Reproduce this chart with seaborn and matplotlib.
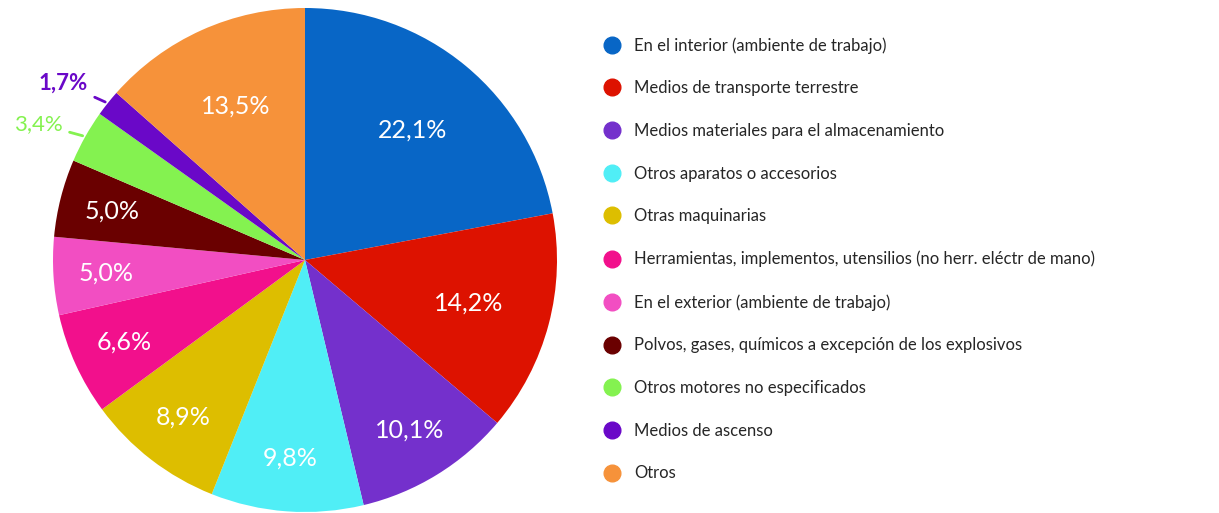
import numpy as np
import matplotlib
matplotlib.use("Agg")
import matplotlib.pyplot as plt
from matplotlib.lines import Line2D
import seaborn as sns

categories = [
    "En el interior (ambiente de trabajo)",
    "Medios de transporte terrestre",
    "Medios materiales para el almacenamiento",
    "Otros aparatos o accesorios",
    "Otras maquinarias",
    "Herramientas, implementos, utensilios (no herr. eléctr de mano)",
    "En el exterior (ambiente de trabajo)",
    "Polvos, gases, químicos a excepción de los explosivos",
    "Otros motores no especificados",
    "Medios de ascenso",
    "Otros",
]
values = [22.1, 14.2, 10.1, 9.8, 8.9, 6.6, 5.0, 5.0, 3.4, 1.7, 13.5]
colors = ["#0866C6", "#DD1200", "#7430CC", "#50EEF6", "#DDBE00", "#F2108C",
          "#F24EC2", "#6A0000", "#84F250", "#6A08C8", "#F6923A"]
outside = [False] * 8 + [True, True, False]

sns.set_theme(style="white")
plt.rcParams["font.family"] = ["Lato", "DejaVu Sans"]

fig = plt.figure(figsize=(12.19, 5.13), dpi=100)
ax = fig.add_axes([53 / 1219, 1 / 513, 504 / 1219, 504 / 513])

wedges, _ = ax.pie(values, colors=colors, startangle=90, counterclock=False,
                   radius=1.0, wedgeprops=dict(linewidth=0))
ax.set_xlim(-1, 1)
ax.set_ylim(-1, 1)
ax.set_aspect("equal")
ax.axis("off")

for w, v, c, out in zip(wedges, values, colors, outside):
    mid = np.deg2rad((w.theta1 + w.theta2) / 2)
    txt = f"{v:.1f}%".replace(".", ",")
    if out:
        ax.annotate(txt, xy=(1.0 * np.cos(mid), 1.0 * np.sin(mid)),
                    xytext=(1.19 * np.cos(mid + 0.04), 1.19 * np.sin(mid + 0.04)),
                    ha="center", va="center", color=c, fontsize=16,
                    fontweight="bold" if v < 2 else "normal",
                    arrowprops=dict(arrowstyle="-", color=c, lw=2,
                                    shrinkA=3, shrinkB=2))
    else:
        r = 0.67 if v > 12 else 0.79
        ax.text(r * np.cos(mid), r * np.sin(mid), txt, ha="center", va="center",
                color="white", fontsize=18)

handles = [Line2D([], [], marker="o", linestyle="", markersize=12,
                  markerfacecolor=c, markeredgecolor=c) for c in colors]
fig.legend(handles, categories, loc="upper left",
           bbox_to_anchor=(604 / 1219, 1 - 37 / 513), frameon=False,
           fontsize=12, labelspacing=1.6, handlelength=1.0,
           handletextpad=0.8, borderaxespad=0, borderpad=0)

fig.savefig("out.png", dpi=100)
